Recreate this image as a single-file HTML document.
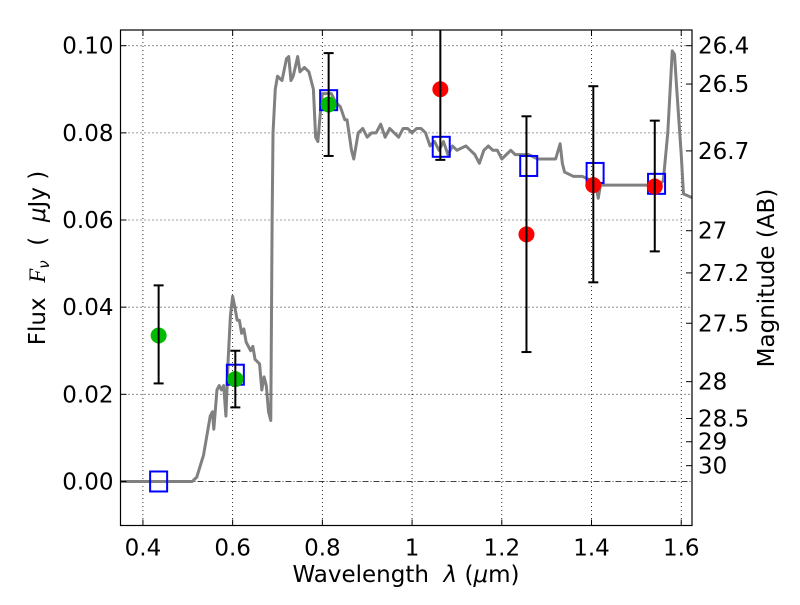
<!DOCTYPE html>
<html><head><meta charset="utf-8"><style>
body{margin:0;background:#fff;width:800px;height:600px;overflow:hidden}
svg{font-family:"DejaVu Sans","Liberation Sans",sans-serif}
</style></head><body>
<svg id="c" width="800" height="600"></svg>
<script>
const specX=[0.35,0.51,0.52,0.535,0.545,0.55,0.555,0.558,0.565,0.57,0.575,0.58,0.585,0.59,0.595,0.6,0.605,0.61,0.615,0.62,0.625,0.63,0.64,0.645,0.65,0.66,0.665,0.67,0.675,0.68,0.685,0.688,0.69,0.695,0.70,0.71,0.72,0.725,0.73,0.735,0.745,0.75,0.76,0.77,0.78,0.785,0.79,0.795,0.80,0.81,0.82,0.83,0.84,0.85,0.855,0.865,0.87,0.88,0.89,0.9,0.91,0.92,0.93,0.94,0.95,0.96,0.97,0.98,0.99,1.0,1.01,1.02,1.03,1.04,1.05,1.06,1.07,1.08,1.09,1.1,1.12,1.13,1.14,1.15,1.16,1.17,1.18,1.19,1.2,1.21,1.22,1.23,1.25,1.26,1.28,1.3,1.32,1.33,1.335,1.34,1.36,1.38,1.4,1.41,1.415,1.42,1.44,1.46,1.48,1.5,1.52,1.55,1.56,1.57,1.58,1.585,1.59,1.6,1.605,1.625];
const specY=[0,0,0.001,0.006,0.012,0.015,0.016,0.012,0.021,0.022,0.021,0.022,0.015,0.028,0.038,0.0425,0.04,0.037,0.037,0.034,0.035,0.032,0.030,0.031,0.028,0.027,0.021,0.024,0.022,0.016,0.014,0.06,0.08,0.09,0.093,0.092,0.097,0.0975,0.092,0.093,0.0975,0.094,0.095,0.094,0.090,0.079,0.078,0.084,0.089,0.089,0.089,0.087,0.086,0.083,0.083,0.076,0.074,0.080,0.081,0.079,0.080,0.080,0.082,0.079,0.081,0.080,0.079,0.081,0.081,0.080,0.081,0.081,0.080,0.077,0.078,0.076,0.078,0.075,0.077,0.076,0.077,0.076,0.075,0.073,0.076,0.077,0.076,0.076,0.074,0.075,0.076,0.075,0.075,0.075,0.074,0.074,0.074,0.0775,0.073,0.071,0.070,0.070,0.069,0.068,0.065,0.068,0.068,0.068,0.068,0.068,0.068,0.068,0.069,0.08,0.0988,0.098,0.09,0.075,0.066,0.0651];
const greenX=[0.435,0.606,0.814], greenY=[0.0335,0.0235,0.0865], greenLo=[0.0225,0.017,0.0747], greenHi=[0.045,0.030,0.0983];
const redX=[1.063,1.255,1.404,1.541], redY=[0.090,0.0567,0.068,0.0677], redLo=[0.0738,0.0297,0.0457,0.0528], redHi=[0.107,0.0838,0.0907,0.0828];
const blueX=[0.435,0.606,0.814,1.065,1.26,1.408,1.545], blueY=[0.0,0.0245,0.0875,0.0768,0.0724,0.0708,0.0683];
const xTicks=[0.4,0.6,0.8,1.0,1.2,1.4,1.6], xTickLabels=["0.4","0.6","0.8","1","1.2","1.4","1.6"];
const yTicks=[0,0.02,0.04,0.06,0.08,0.10], yTickLabels=["0.00","0.02","0.04","0.06","0.08","0.10"];
const magTicks=[26.4,26.5,26.7,27,27.2,27.5,28,28.5,29,30], magLabels=["26.4","26.5","26.7","27","27.2","27.5","28","28.5","29","30"];

const L=120.5,R=692,T=30,B=525.5,X0=0.35,X1=1.624,Y0=-0.0101,Y1=0.1036;
const FS=23;
const sx=v=>L+(v-X0)/(X1-X0)*(R-L), sy=v=>B-(v-Y0)/(Y1-Y0)*(B-T);
const svg=document.getElementById('c'),NS="http://www.w3.org/2000/svg";
function mk(t,a,p){const e=document.createElementNS(NS,t);for(const k in a)e.setAttribute(k,a[k]);(p||svg).appendChild(e);return e;}
const clip=mk('clipPath',{id:'cp'});mk('rect',{x:L,y:T,width:R-L,height:B-T},clip);
xTicks.forEach(v=>{const g=mk('line',{x1:sx(v),x2:sx(v),y1:T,y2:B,stroke:'#000','stroke-width':0.8,'stroke-dasharray':'1,3'});

});
yTicks.forEach(v=>{const g=mk('line',{x1:L,x2:R,y1:sy(v),y2:sy(v),stroke:'#000','stroke-width':0.8,'stroke-dasharray':v===0?'6,2,1,2':'1,3'});

});
const sp=mk('polyline',{points:specX.map((x,i)=>sx(x)+','+sy(specY[i])).join(' '),fill:'none',stroke:'#808080','stroke-width':3,'clip-path':'url(#cp)','stroke-linejoin':'round'});


blueX.forEach((x,i)=>{const r=mk('rect',{x:sx(x)-8.5,y:sy(blueY[i])-10,width:17,height:20,fill:'none',stroke:'#0000ff','stroke-width':2,'clip-path':'url(#cp)'});

});
function pts(X,Y,Lo,Hi,col,name){X.forEach((x,i)=>{
const g=mk('g',{'clip-path':'url(#cp)'});


mk('circle',{cx:sx(x),cy:sy(Y[i]),r:8,fill:col},g);
mk('line',{x1:sx(x),x2:sx(x),y1:sy(Lo[i]),y2:sy(Hi[i]),stroke:'#000','stroke-width':2},g);
[Lo[i],Hi[i]].forEach(v=>mk('line',{x1:sx(x)-5,x2:sx(x)+5,y1:sy(v),y2:sy(v),stroke:'#000','stroke-width':2},g));});}
pts(greenX,greenY,greenLo,greenHi,'#00bb00','green-data-point');
pts(redX,redY,redLo,redHi,'#ff0000','red-data-point');
const fr=mk('rect',{x:L,y:T,width:R-L,height:B-T,fill:'none',stroke:'#000','stroke-width':1.2});


xTicks.forEach((v,i)=>{mk('line',{x1:sx(v),x2:sx(v),y1:B,y2:B-6,stroke:'#000'});mk('line',{x1:sx(v),x2:sx(v),y1:T,y2:T+6,stroke:'#000'});
const t=mk('text',{x:sx(v),y:B+30,'font-size':FS,'text-anchor':'middle'});t.textContent=xTickLabels[i];

});
yTicks.forEach((v,i)=>{mk('line',{x1:L,x2:L+6,y1:sy(v),y2:sy(v),stroke:'#000'});
const t=mk('text',{x:L-7,y:sy(v)+8,'font-size':FS,'text-anchor':'end'});t.textContent=yTickLabels[i];

});
magTicks.forEach((m,i)=>{const f=Math.pow(10,(23.9-m)/2.5);mk('line',{x1:R,x2:R-6,y1:sy(f),y2:sy(f),stroke:'#000'});
const t=mk('text',{x:R+6,y:sy(f)+8,'font-size':FS});t.textContent=magLabels[i];

});
</script>
<svg width="800" height="600" style="position:absolute;left:0;top:0;font-family:'DejaVu Sans','Liberation Sans',sans-serif">
<text x="406" y="582" font-size="23" text-anchor="middle" xml:space="preserve">Wavelength  <tspan font-style="italic">λ</tspan> (<tspan font-style="italic">μ</tspan>m)</text>
<text transform="translate(45,258) rotate(-90)" font-size="23" text-anchor="middle" xml:space="preserve">Flux  <tspan font-style="italic" font-family="Liberation Serif">F</tspan><tspan font-style="italic" font-size="15" dy="4">ν</tspan><tspan dy="-4">  (  </tspan><tspan font-style="italic">μ</tspan>Jy )</text>
<text transform="translate(774,278) rotate(-90)" font-size="23" text-anchor="middle">Magnitude (AB)</text>
</svg>
</body></html>
